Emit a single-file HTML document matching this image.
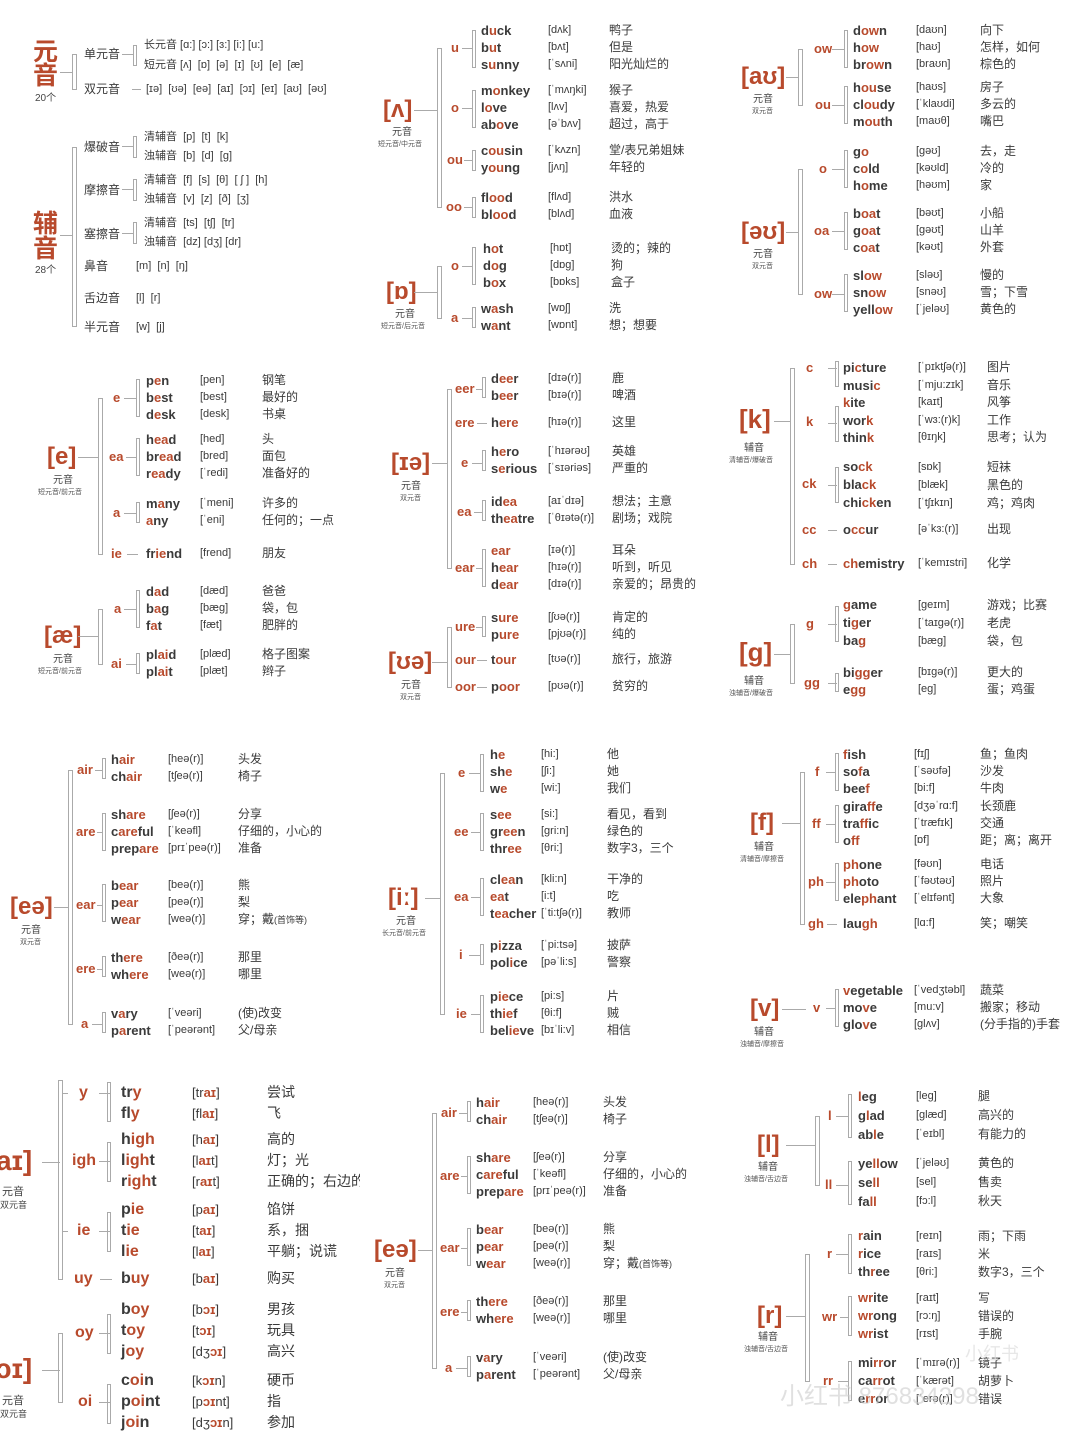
<!DOCTYPE html>
<html><head><meta charset="utf-8"><style>
body{margin:0;background:#fff;}
#c{position:relative;width:1080px;height:1440px;overflow:hidden;font-family:"Liberation Sans","Noto Sans CJK SC",sans-serif;color:#3a3a3a;}
#c div{position:absolute;}
.L{color:#b84a2c;font-weight:bold;font-size:24px;line-height:28px;white-space:nowrap}
.y{font-size:10px;line-height:12px;white-space:nowrap;color:#444}
.z{font-size:7px;line-height:9px;white-space:nowrap;color:#555}
.l{color:#b84a2c;font-weight:bold;font-size:13px;line-height:16px;white-space:nowrap}
.h{height:1px;background:#aaa}
.v{border:1px solid #aaa;width:5px;box-sizing:border-box}
.s{border:1px solid #aaa;width:4px;box-sizing:border-box}
.g p{margin:0;height:var(--h,17px);line-height:var(--h,17px);white-space:nowrap}
.g i{font-style:normal;display:inline-block;vertical-align:top}
.g i:nth-child(1){width:var(--a);font-weight:bold;font-size:var(--fw,13px)}
.g i:nth-child(2){width:calc(var(--b) - var(--a));font-size:var(--fi,11px)}
.g i:nth-child(3){font-size:var(--fc,12px)}
.g b{color:#b84a2c}
.t{font-size:12px;line-height:16px;white-space:nowrap}
.t2{font-size:11px;line-height:14px;white-space:nowrap}
.p2{--a:67px;--b:128px}.p3{--a:63px;--b:127px}.p4{--a:54px;--b:116px}.p5{--a:57px;--b:121px}
.p6{--a:75px;--b:144px}.p7{--a:57px;--b:127px}.p8{--a:51px;--b:117px}.p9{--a:71px;--b:137px}
.p10{--a:71px;--b:146px;--h:21px;--fw:16px;--fi:13px;--fc:14px}.p12{--a:58px;--b:120px;--h:19px}.p12b{--a:58px;--b:120px;--h:18px}
</style></head><body><div id="c">

<!-- Panel 1 -->
<div class="L" style="left:33px;top:40px;font-size:25px;line-height:24px">元<br>音</div>
<div class="y" style="left:35px;top:93px">20个</div>
<div class="h" style="left:60px;top:72px;width:12px"></div>
<div class="v" style="left:72px;top:54px;height:36px"></div>
<div class="t" style="left:84px;top:46px">单元音</div>
<div class="h" style="left:122px;top:54px;width:11px"></div>
<div class="s" style="left:133px;top:45px;height:21px"></div>
<div class="t2" style="left:144px;top:38px">长元音 [ɑ:] [ɔ:] [ɜ:] [i:] [u:]</div>
<div class="t2" style="left:144px;top:58px">短元音 [ʌ] &nbsp;[ɒ] &nbsp;[ə] &nbsp;[ɪ] &nbsp;[ʊ] &nbsp;[e] &nbsp;[æ]</div>
<div class="t" style="left:84px;top:81px">双元音</div>
<div class="h" style="left:132px;top:89px;width:9px"></div>
<div class="t2" style="left:146px;top:82px">[ɪə] &nbsp;[ʊə] &nbsp;[eə] &nbsp;[aɪ] &nbsp;[ɔɪ] &nbsp;[eɪ] &nbsp;[aʊ] &nbsp;[əʊ]</div>

<div class="L" style="left:33px;top:212px;font-size:25px;line-height:25px">辅<br>音</div>
<div class="y" style="left:35px;top:265px">28个</div>
<div class="h" style="left:60px;top:235px;width:12px"></div>
<div class="v" style="left:72px;top:147px;height:180px"></div>
<div class="t" style="left:84px;top:139px">爆破音</div>
<div class="h" style="left:122px;top:146px;width:11px"></div>
<div class="s" style="left:133px;top:136px;height:22px"></div>
<div class="t2" style="left:144px;top:130px">清辅音 &nbsp;[p] &nbsp;[t] &nbsp;[k]</div>
<div class="t2" style="left:144px;top:149px">浊辅音 &nbsp;[b] &nbsp;[d] &nbsp;[g]</div>
<div class="t" style="left:84px;top:182px">摩擦音</div>
<div class="h" style="left:122px;top:189px;width:11px"></div>
<div class="s" style="left:133px;top:179px;height:22px"></div>
<div class="t2" style="left:144px;top:173px">清辅音 &nbsp;[f] &nbsp;[s] &nbsp;[θ] &nbsp;[ ʃ ] &nbsp;[h]</div>
<div class="t2" style="left:144px;top:192px">浊辅音 &nbsp;[v] &nbsp;[z] &nbsp;[ð] &nbsp;[ʒ]</div>
<div class="t" style="left:84px;top:226px">塞擦音</div>
<div class="h" style="left:122px;top:233px;width:11px"></div>
<div class="s" style="left:133px;top:222px;height:22px"></div>
<div class="t2" style="left:144px;top:216px">清辅音 &nbsp;[ts] &nbsp;[tʃ] &nbsp;[tr]</div>
<div class="t2" style="left:144px;top:235px">浊辅音 &nbsp;[dz] [dʒ] [dr]</div>
<div class="t" style="left:84px;top:258px">鼻音</div>
<div class="t2" style="left:136px;top:259px">[m] &nbsp;[n] &nbsp;[ŋ]</div>
<div class="t" style="left:84px;top:290px">舌边音</div>
<div class="t2" style="left:136px;top:291px">[l] &nbsp;[r]</div>
<div class="t" style="left:84px;top:319px">半元音</div>
<div class="t2" style="left:136px;top:320px">[w] &nbsp;[j]</div>

<!-- Panel 2 -->
<div class="L" style="left:383px;top:96px">[ʌ]</div>
<div class="y" style="left:392px;top:127px">元音</div>
<div class="z" style="left:378px;top:140px">短元音/中元音</div>
<div class="h" style="left:414px;top:110px;width:23px"></div>
<div class="v" style="left:437px;top:48px;height:160px"></div>
<div class="l" style="left:451px;top:40px">u</div><div class="h" style="left:462px;top:48px;width:10px"></div><div class="s" style="left:472px;top:30px;height:38px"></div>
<div class="l" style="left:451px;top:100px">o</div><div class="h" style="left:462px;top:108px;width:10px"></div><div class="s" style="left:472px;top:90px;height:38px"></div>
<div class="l" style="left:447px;top:152px">ou</div><div class="h" style="left:464px;top:160px;width:8px"></div><div class="s" style="left:472px;top:150px;height:21px"></div>
<div class="l" style="left:446px;top:199px">oo</div><div class="h" style="left:464px;top:207px;width:8px"></div><div class="s" style="left:472px;top:197px;height:21px"></div>
<div class="g p2" style="left:481px;top:22px">
<p><i>d<b>u</b>ck</i><i>[dʌk]</i><i>鸭子</i></p>
<p><i>b<b>u</b>t</i><i>[bʌt]</i><i>但是</i></p>
<p><i>s<b>u</b>nny</i><i>[ˈsʌni]</i><i>阳光灿烂的</i></p></div>
<div class="g p2" style="left:481px;top:82px">
<p><i>m<b>o</b>nkey</i><i>[ˈmʌŋki]</i><i>猴子</i></p>
<p><i>l<b>o</b>ve</i><i>[lʌv]</i><i>喜爱，热爱</i></p>
<p><i>ab<b>o</b>ve</i><i>[əˈbʌv]</i><i>超过，高于</i></p></div>
<div class="g p2" style="left:481px;top:142px">
<p><i>c<b>ou</b>sin</i><i>[ˈkʌzn]</i><i>堂/表兄弟姐妹</i></p>
<p><i>y<b>ou</b>ng</i><i>[jʌŋ]</i><i>年轻的</i></p></div>
<div class="g p2" style="left:481px;top:189px">
<p><i>fl<b>oo</b>d</i><i>[flʌd]</i><i>洪水</i></p>
<p><i>bl<b>oo</b>d</i><i>[blʌd]</i><i>血液</i></p></div>

<div class="L" style="left:386px;top:278px">[ɒ]</div>
<div class="y" style="left:395px;top:309px">元音</div>
<div class="z" style="left:381px;top:322px">短元音/后元音</div>
<div class="h" style="left:414px;top:292px;width:23px"></div>
<div class="v" style="left:437px;top:266px;height:53px"></div>
<div class="l" style="left:451px;top:258px">o</div><div class="h" style="left:462px;top:266px;width:10px"></div><div class="s" style="left:472px;top:247px;height:38px"></div>
<div class="l" style="left:451px;top:310px">a</div><div class="h" style="left:462px;top:318px;width:10px"></div><div class="s" style="left:472px;top:307px;height:21px"></div>
<div class="g p2" style="left:483px;top:240px">
<p><i>h<b>o</b>t</i><i>[hɒt]</i><i>烫的；辣的</i></p>
<p><i>d<b>o</b>g</i><i>[dɒg]</i><i>狗</i></p>
<p><i>b<b>o</b>x</i><i>[bɒks]</i><i>盒子</i></p></div>
<div class="g p2" style="left:481px;top:300px">
<p><i>w<b>a</b>sh</i><i>[wɒʃ]</i><i>洗</i></p>
<p><i>w<b>a</b>nt</i><i>[wɒnt]</i><i>想；想要</i></p></div>

<!-- Panel 3 -->
<div class="L" style="left:741px;top:63px">[aʊ]</div>
<div class="y" style="left:753px;top:94px">元音</div>
<div class="z" style="left:752px;top:107px">双元音</div>
<div class="h" style="left:786px;top:77px;width:12px"></div>
<div class="v" style="left:798px;top:49px;height:57px"></div>
<div class="l" style="left:814px;top:41px">ow</div><div class="h" style="left:832px;top:49px;width:12px"></div><div class="s" style="left:844px;top:30px;height:38px"></div>
<div class="l" style="left:815px;top:97px">ou</div><div class="h" style="left:832px;top:105px;width:12px"></div><div class="s" style="left:844px;top:86px;height:38px"></div>
<div class="g p3" style="left:853px;top:22px">
<p><i>d<b>ow</b>n</i><i>[daʊn]</i><i>向下</i></p>
<p><i>h<b>ow</b></i><i>[haʊ]</i><i>怎样，如何</i></p>
<p><i>br<b>ow</b>n</i><i>[braʊn]</i><i>棕色的</i></p></div>
<div class="g p3" style="left:853px;top:79px">
<p><i>h<b>ou</b>se</i><i>[haʊs]</i><i>房子</i></p>
<p><i>cl<b>ou</b>dy</i><i>[ˈklaʊdi]</i><i>多云的</i></p>
<p><i>m<b>ou</b>th</i><i>[maʊθ]</i><i>嘴巴</i></p></div>

<div class="L" style="left:741px;top:218px">[əʊ]</div>
<div class="y" style="left:753px;top:249px">元音</div>
<div class="z" style="left:752px;top:262px">双元音</div>
<div class="h" style="left:786px;top:232px;width:12px"></div>
<div class="v" style="left:798px;top:169px;height:126px"></div>
<div class="l" style="left:819px;top:161px">o</div><div class="h" style="left:832px;top:169px;width:12px"></div><div class="s" style="left:844px;top:150px;height:38px"></div>
<div class="l" style="left:814px;top:223px">oa</div><div class="h" style="left:832px;top:231px;width:12px"></div><div class="s" style="left:844px;top:212px;height:38px"></div>
<div class="l" style="left:814px;top:286px">ow</div><div class="h" style="left:832px;top:294px;width:12px"></div><div class="s" style="left:844px;top:274px;height:38px"></div>
<div class="g p3" style="left:853px;top:143px">
<p><i>g<b>o</b></i><i>[gəʊ]</i><i>去，走</i></p>
<p><i>c<b>o</b>ld</i><i>[kəʊld]</i><i>冷的</i></p>
<p><i>h<b>o</b>me</i><i>[həʊm]</i><i>家</i></p></div>
<div class="g p3" style="left:853px;top:205px">
<p><i>b<b>oa</b>t</i><i>[bəʊt]</i><i>小船</i></p>
<p><i>g<b>oa</b>t</i><i>[gəʊt]</i><i>山羊</i></p>
<p><i>c<b>oa</b>t</i><i>[kəʊt]</i><i>外套</i></p></div>
<div class="g p3" style="left:853px;top:267px">
<p><i>sl<b>ow</b></i><i>[sləʊ]</i><i>慢的</i></p>
<p><i>sn<b>ow</b></i><i>[snəʊ]</i><i>雪；下雪</i></p>
<p><i>yell<b>ow</b></i><i>[ˈjeləʊ]</i><i>黄色的</i></p></div>

<!-- Panel 4 -->
<div class="L" style="left:47px;top:443px">[e]</div>
<div class="y" style="left:53px;top:475px">元音</div>
<div class="z" style="left:38px;top:488px">短元音/前元音</div>
<div class="h" style="left:78px;top:457px;width:20px"></div>
<div class="v" style="left:98px;top:398px;height:157px"></div>
<div class="l" style="left:113px;top:390px">e</div><div class="h" style="left:124px;top:398px;width:12px"></div><div class="s" style="left:136px;top:379px;height:38px"></div>
<div class="l" style="left:109px;top:449px">ea</div><div class="h" style="left:126px;top:457px;width:10px"></div><div class="s" style="left:136px;top:438px;height:38px"></div>
<div class="l" style="left:113px;top:505px">a</div><div class="h" style="left:124px;top:513px;width:12px"></div><div class="s" style="left:136px;top:502px;height:21px"></div>
<div class="l" style="left:111px;top:546px">ie</div><div class="h" style="left:127px;top:554px;width:11px"></div>
<div class="g p4" style="left:146px;top:372px">
<p><i>p<b>e</b>n</i><i>[pen]</i><i>钢笔</i></p>
<p><i>b<b>e</b>st</i><i>[best]</i><i>最好的</i></p>
<p><i>d<b>e</b>sk</i><i>[desk]</i><i>书桌</i></p></div>
<div class="g p4" style="left:146px;top:431px">
<p><i>h<b>ea</b>d</i><i>[hed]</i><i>头</i></p>
<p><i>br<b>ea</b>d</i><i>[bred]</i><i>面包</i></p>
<p><i>r<b>ea</b>dy</i><i>[ˈredi]</i><i>准备好的</i></p></div>
<div class="g p4" style="left:146px;top:495px">
<p><i>m<b>a</b>ny</i><i>[ˈmeni]</i><i>许多的</i></p>
<p><i><b>a</b>ny</i><i>[ˈeni]</i><i>任何的；一点</i></p></div>
<div class="g p4" style="left:146px;top:545px">
<p><i>fr<b>ie</b>nd</i><i>[frend]</i><i>朋友</i></p></div>

<div class="L" style="left:44px;top:622px">[æ]</div>
<div class="y" style="left:53px;top:654px">元音</div>
<div class="z" style="left:38px;top:667px">短元音/前元音</div>
<div class="h" style="left:78px;top:636px;width:20px"></div>
<div class="v" style="left:98px;top:609px;height:56px"></div>
<div class="l" style="left:114px;top:601px">a</div><div class="h" style="left:124px;top:609px;width:12px"></div><div class="s" style="left:136px;top:590px;height:38px"></div>
<div class="l" style="left:111px;top:656px">ai</div><div class="h" style="left:126px;top:664px;width:10px"></div><div class="s" style="left:136px;top:653px;height:21px"></div>
<div class="g p4" style="left:146px;top:583px">
<p><i>d<b>a</b>d</i><i>[dæd]</i><i>爸爸</i></p>
<p><i>b<b>a</b>g</i><i>[bæg]</i><i>袋，包</i></p>
<p><i>f<b>a</b>t</i><i>[fæt]</i><i>肥胖的</i></p></div>
<div class="g p4" style="left:146px;top:646px">
<p><i>pl<b>ai</b>d</i><i>[plæd]</i><i>格子图案</i></p>
<p><i>pl<b>ai</b>t</i><i>[plæt]</i><i>辫子</i></p></div>

<!-- Panel 5 -->
<div class="L" style="left:391px;top:449px">[ɪə]</div>
<div class="y" style="left:401px;top:481px">元音</div>
<div class="z" style="left:400px;top:494px">双元音</div>
<div class="h" style="left:432px;top:463px;width:15px"></div>
<div class="v" style="left:447px;top:389px;height:180px"></div>
<div class="l" style="left:455px;top:381px">eer</div><div class="h" style="left:476px;top:389px;width:6px"></div><div class="s" style="left:482px;top:377px;height:21px"></div>
<div class="l" style="left:455px;top:415px">ere</div><div class="h" style="left:477px;top:423px;width:10px"></div>
<div class="l" style="left:461px;top:455px">e</div><div class="h" style="left:472px;top:463px;width:10px"></div><div class="s" style="left:482px;top:450px;height:21px"></div>
<div class="l" style="left:457px;top:504px">ea</div><div class="h" style="left:474px;top:512px;width:8px"></div><div class="s" style="left:482px;top:500px;height:21px"></div>
<div class="l" style="left:455px;top:560px">ear</div><div class="h" style="left:476px;top:568px;width:6px"></div><div class="s" style="left:482px;top:549px;height:38px"></div>
<div class="g p5" style="left:491px;top:370px">
<p><i>d<b>ee</b>r</i><i>[dɪə(r)]</i><i>鹿</i></p>
<p><i>b<b>ee</b>r</i><i>[bɪə(r)]</i><i>啤酒</i></p></div>
<div class="g p5" style="left:491px;top:414px">
<p><i>h<b>ere</b></i><i>[hɪə(r)]</i><i>这里</i></p></div>
<div class="g p5" style="left:491px;top:443px">
<p><i>h<b>e</b>ro</i><i>[ˈhɪərəʊ]</i><i>英雄</i></p>
<p><i>s<b>e</b>rious</i><i>[ˈsɪəriəs]</i><i>严重的</i></p></div>
<div class="g p5" style="left:491px;top:493px">
<p><i>id<b>ea</b></i><i>[aɪˈdɪə]</i><i>想法；主意</i></p>
<p><i>th<b>ea</b>tre</i><i>[ˈθɪətə(r)]</i><i>剧场；戏院</i></p></div>
<div class="g p5" style="left:491px;top:542px">
<p><i><b>ear</b></i><i>[ɪə(r)]</i><i>耳朵</i></p>
<p><i>h<b>ear</b></i><i>[hɪə(r)]</i><i>听到，听见</i></p>
<p><i>d<b>ear</b></i><i>[dɪə(r)]</i><i>亲爱的；昂贵的</i></p></div>

<div class="L" style="left:388px;top:648px">[ʊə]</div>
<div class="y" style="left:401px;top:680px">元音</div>
<div class="z" style="left:400px;top:693px">双元音</div>
<div class="h" style="left:432px;top:662px;width:15px"></div>
<div class="v" style="left:447px;top:627px;height:61px"></div>
<div class="l" style="left:455px;top:619px">ure</div><div class="h" style="left:476px;top:627px;width:6px"></div><div class="s" style="left:482px;top:616px;height:21px"></div>
<div class="l" style="left:455px;top:652px">our</div><div class="h" style="left:477px;top:660px;width:10px"></div>
<div class="l" style="left:455px;top:679px">oor</div><div class="h" style="left:477px;top:687px;width:10px"></div>
<div class="g p5" style="left:491px;top:609px">
<p><i>s<b>ure</b></i><i>[ʃʊə(r)]</i><i>肯定的</i></p>
<p><i>p<b>ure</b></i><i>[pjʊə(r)]</i><i>纯的</i></p></div>
<div class="g p5" style="left:491px;top:651px">
<p><i>t<b>our</b></i><i>[tʊə(r)]</i><i>旅行，旅游</i></p></div>
<div class="g p5" style="left:491px;top:678px">
<p><i>p<b>oor</b></i><i>[pʊə(r)]</i><i>贫穷的</i></p></div>

<!-- Panel 6 -->
<div class="L" style="left:739px;top:405px;font-size:26px">[k]</div>
<div class="y" style="left:744px;top:443px">辅音</div>
<div class="z" style="left:729px;top:456px">清辅音/爆破音</div>
<div class="h" style="left:774px;top:421px;width:16px"></div>
<div class="v" style="left:790px;top:368px;height:197px"></div>
<div class="l" style="left:806px;top:360px">c</div><div class="h" style="left:828px;top:368px;width:9px"></div><div class="s" style="left:835px;top:361px;height:26px"></div>
<div class="l" style="left:806px;top:414px">k</div><div class="h" style="left:828px;top:423px;width:9px"></div><div class="s" style="left:835px;top:406px;height:36px"></div>
<div class="l" style="left:802px;top:476px">ck</div><div class="h" style="left:828px;top:485px;width:9px"></div><div class="s" style="left:835px;top:467px;height:36px"></div>
<div class="l" style="left:802px;top:522px">cc</div><div class="h" style="left:828px;top:530px;width:9px"></div>
<div class="l" style="left:802px;top:556px">ch</div><div class="h" style="left:828px;top:564px;width:9px"></div>
<div class="g p6" style="left:843px;top:359px;--h:17.5px">
<p><i>pi<b>c</b>ture</i><i>[ˈpɪktʃə(r)]</i><i>图片</i></p>
<p><i>musi<b>c</b></i><i>[ˈmju:zɪk]</i><i>音乐</i></p>
<p><i><b>k</b>ite</i><i>[kaɪt]</i><i>风筝</i></p>
<p><i>wor<b>k</b></i><i>[ˈwɜ:(r)k]</i><i>工作</i></p>
<p><i>thin<b>k</b></i><i>[θɪŋk]</i><i>思考；认为</i></p></div>
<div class="g p6" style="left:843px;top:458px;--h:18px">
<p><i>so<b>ck</b></i><i>[sɒk]</i><i>短袜</i></p>
<p><i>bla<b>ck</b></i><i>[blæk]</i><i>黑色的</i></p>
<p><i>chi<b>ck</b>en</i><i>[ˈtʃɪkɪn]</i><i>鸡；鸡肉</i></p></div>
<div class="g p6" style="left:843px;top:521px">
<p><i>o<b>cc</b>ur</i><i>[əˈkɜ:(r)]</i><i>出现</i></p></div>
<div class="g p6" style="left:843px;top:555px">
<p><i><b>ch</b>emistry</i><i>[ˈkemɪstri]</i><i>化学</i></p></div>

<div class="L" style="left:739px;top:638px;font-size:26px">[g]</div>
<div class="y" style="left:744px;top:676px">辅音</div>
<div class="z" style="left:729px;top:689px">浊辅音/爆破音</div>
<div class="h" style="left:774px;top:654px;width:16px"></div>
<div class="v" style="left:790px;top:624px;height:60px"></div>
<div class="l" style="left:806px;top:616px">g</div><div class="h" style="left:828px;top:624px;width:9px"></div><div class="s" style="left:835px;top:606px;height:36px"></div>
<div class="l" style="left:804px;top:675px">gg</div><div class="h" style="left:828px;top:683px;width:9px"></div><div class="s" style="left:835px;top:673px;height:19px"></div>
<div class="g p6" style="left:843px;top:596px;--h:18px">
<p><i><b>g</b>ame</i><i>[geɪm]</i><i>游戏；比赛</i></p>
<p><i>ti<b>g</b>er</i><i>[ˈtaɪgə(r)]</i><i>老虎</i></p>
<p><i>ba<b>g</b></i><i>[bæg]</i><i>袋，包</i></p></div>
<div class="g p6" style="left:843px;top:664px">
<p><i>bi<b>gg</b>er</i><i>[bɪgə(r)]</i><i>更大的</i></p>
<p><i>e<b>gg</b></i><i>[eg]</i><i>蛋；鸡蛋</i></p></div>

<!-- Panel 7 -->
<div class="L" style="left:10px;top:893px">[eə]</div>
<div class="y" style="left:21px;top:925px">元音</div>
<div class="z" style="left:20px;top:938px">双元音</div>
<div class="h" style="left:54px;top:907px;width:14px"></div>
<div class="v" style="left:68px;top:770px;height:255px"></div>
<div class="l" style="left:77px;top:762px">air</div><div class="h" style="left:95px;top:770px;width:7px"></div><div class="s" style="left:102px;top:758px;height:21px"></div>
<div class="l" style="left:76px;top:824px">are</div><div class="h" style="left:97px;top:832px;width:5px"></div><div class="s" style="left:102px;top:813px;height:38px"></div>
<div class="l" style="left:76px;top:897px">ear</div><div class="h" style="left:97px;top:905px;width:5px"></div><div class="s" style="left:102px;top:884px;height:38px"></div>
<div class="l" style="left:76px;top:961px">ere</div><div class="h" style="left:97px;top:969px;width:5px"></div><div class="s" style="left:102px;top:956px;height:21px"></div>
<div class="l" style="left:81px;top:1016px">a</div><div class="h" style="left:92px;top:1024px;width:10px"></div><div class="s" style="left:102px;top:1012px;height:21px"></div>
<div class="g p7" style="left:111px;top:751px">
<p><i>h<b>air</b></i><i>[heə(r)]</i><i>头发</i></p>
<p><i>ch<b>air</b></i><i>[tʃeə(r)]</i><i>椅子</i></p></div>
<div class="g p7" style="left:111px;top:806px">
<p><i>sh<b>are</b></i><i>[ʃeə(r)]</i><i>分享</i></p>
<p><i>c<b>are</b>ful</i><i>[ˈkeəfl]</i><i>仔细的，小心的</i></p>
<p><i>prep<b>are</b></i><i>[prɪˈpeə(r)]</i><i>准备</i></p></div>
<div class="g p7" style="left:111px;top:877px">
<p><i>b<b>ear</b></i><i>[beə(r)]</i><i>熊</i></p>
<p><i>p<b>ear</b></i><i>[peə(r)]</i><i>梨</i></p>
<p><i>w<b>ear</b></i><i>[weə(r)]</i><i>穿；戴<span style="font-size:9px">(首饰等)</span></i></p></div>
<div class="g p7" style="left:111px;top:949px">
<p><i>th<b>ere</b></i><i>[ðeə(r)]</i><i>那里</i></p>
<p><i>wh<b>ere</b></i><i>[weə(r)]</i><i>哪里</i></p></div>
<div class="g p7" style="left:111px;top:1005px">
<p><i>v<b>a</b>ry</i><i>[ˈveəri]</i><i>(使)改变</i></p>
<p><i>p<b>a</b>rent</i><i>[ˈpeərənt]</i><i>父/母亲</i></p></div>

<!-- Panel 8 -->
<div class="L" style="left:388px;top:884px">[iː]</div>
<div class="y" style="left:396px;top:916px">元音</div>
<div class="z" style="left:382px;top:929px">长元音/前元音</div>
<div class="h" style="left:425px;top:898px;width:15px"></div>
<div class="v" style="left:440px;top:773px;height:242px"></div>
<div class="l" style="left:458px;top:765px">e</div><div class="h" style="left:469px;top:773px;width:11px"></div><div class="s" style="left:480px;top:754px;height:38px"></div>
<div class="l" style="left:454px;top:824px">ee</div><div class="h" style="left:471px;top:832px;width:9px"></div><div class="s" style="left:480px;top:813px;height:38px"></div>
<div class="l" style="left:454px;top:889px">ea</div><div class="h" style="left:471px;top:897px;width:9px"></div><div class="s" style="left:480px;top:878px;height:38px"></div>
<div class="l" style="left:459px;top:947px">i</div><div class="h" style="left:469px;top:955px;width:11px"></div><div class="s" style="left:480px;top:944px;height:21px"></div>
<div class="l" style="left:456px;top:1006px">ie</div><div class="h" style="left:471px;top:1014px;width:9px"></div><div class="s" style="left:480px;top:995px;height:38px"></div>
<div class="g p8" style="left:490px;top:746px">
<p><i>h<b>e</b></i><i>[hi:]</i><i>他</i></p>
<p><i>sh<b>e</b></i><i>[ʃi:]</i><i>她</i></p>
<p><i>w<b>e</b></i><i>[wi:]</i><i>我们</i></p></div>
<div class="g p8" style="left:490px;top:806px">
<p><i>s<b>ee</b></i><i>[si:]</i><i>看见，看到</i></p>
<p><i>gr<b>ee</b>n</i><i>[gri:n]</i><i>绿色的</i></p>
<p><i>thr<b>ee</b></i><i>[θri:]</i><i>数字3，三个</i></p></div>
<div class="g p8" style="left:490px;top:871px">
<p><i>cl<b>ea</b>n</i><i>[kli:n]</i><i>干净的</i></p>
<p><i><b>ea</b>t</i><i>[i:t]</i><i>吃</i></p>
<p><i>t<b>ea</b>cher</i><i>[ˈti:tʃə(r)]</i><i>教师</i></p></div>
<div class="g p8" style="left:490px;top:937px">
<p><i>p<b>i</b>zza</i><i>[ˈpi:tsə]</i><i>披萨</i></p>
<p><i>pol<b>i</b>ce</i><i>[pəˈli:s]</i><i>警察</i></p></div>
<div class="g p8" style="left:490px;top:988px">
<p><i>p<b>ie</b>ce</i><i>[pi:s]</i><i>片</i></p>
<p><i>th<b>ie</b>f</i><i>[θi:f]</i><i>贼</i></p>
<p><i>bel<b>ie</b>ve</i><i>[bɪˈli:v]</i><i>相信</i></p></div>

<!-- Panel 9 -->
<div class="L" style="left:750px;top:809px">[f]</div>
<div class="y" style="left:754px;top:842px">辅音</div>
<div class="z" style="left:740px;top:855px">清辅音/摩擦音</div>
<div class="h" style="left:782px;top:823px;width:18px"></div>
<div class="v" style="left:800px;top:772px;height:153px"></div>
<div class="l" style="left:815px;top:764px">f</div><div class="h" style="left:826px;top:772px;width:9px"></div><div class="s" style="left:835px;top:753px;height:38px"></div>
<div class="l" style="left:812px;top:816px">ff</div><div class="h" style="left:826px;top:824px;width:9px"></div><div class="s" style="left:835px;top:805px;height:38px"></div>
<div class="l" style="left:808px;top:874px">ph</div><div class="h" style="left:826px;top:882px;width:9px"></div><div class="s" style="left:835px;top:863px;height:38px"></div>
<div class="l" style="left:808px;top:916px">gh</div><div class="h" style="left:827px;top:924px;width:10px"></div>
<div class="g p9" style="left:843px;top:746px">
<p><i><b>f</b>ish</i><i>[fɪʃ]</i><i>鱼；鱼肉</i></p>
<p><i>so<b>f</b>a</i><i>[ˈsəʊfə]</i><i>沙发</i></p>
<p><i>bee<b>f</b></i><i>[bi:f]</i><i>牛肉</i></p></div>
<div class="g p9" style="left:843px;top:798px">
<p><i>gira<b>ff</b>e</i><i>[dʒəˈrɑ:f]</i><i>长颈鹿</i></p>
<p><i>tra<b>ff</b>ic</i><i>[ˈtræfɪk]</i><i>交通</i></p>
<p><i>o<b>ff</b></i><i>[ɒf]</i><i>距；离；离开</i></p></div>
<div class="g p9" style="left:843px;top:856px">
<p><i><b>ph</b>one</i><i>[fəʊn]</i><i>电话</i></p>
<p><i><b>ph</b>oto</i><i>[ˈfəʊtəʊ]</i><i>照片</i></p>
<p><i>ele<b>ph</b>ant</i><i>[ˈelɪfənt]</i><i>大象</i></p></div>
<div class="g p9" style="left:843px;top:915px">
<p><i>lau<b>gh</b></i><i>[lɑ:f]</i><i>笑；嘲笑</i></p></div>

<div class="L" style="left:750px;top:995px">[v]</div>
<div class="y" style="left:754px;top:1027px">辅音</div>
<div class="z" style="left:740px;top:1040px">浊辅音/摩擦音</div>
<div class="h" style="left:782px;top:1009px;width:24px"></div>
<div class="l" style="left:813px;top:1000px">v</div><div class="h" style="left:826px;top:1008px;width:9px"></div><div class="s" style="left:835px;top:989px;height:38px"></div>
<div class="g p9" style="left:843px;top:982px">
<p><i><b>v</b>egetable</i><i>[ˈvedʒtəbl]</i><i>蔬菜</i></p>
<p><i>mo<b>v</b>e</i><i>[mu:v]</i><i>搬家；移动</i></p>
<p><i>glo<b>v</b>e</i><i>[glʌv]</i><i>(分手指的)手套</i></p></div>

<!-- Panel 10 -->
<div class="L" style="left:-4px;top:1144px;font-size:28px;line-height:34px">aɪ]</div>
<div class="y" style="left:2px;top:1186px;font-size:11px">元音</div>
<div class="y" style="left:0px;top:1199px;font-size:9px">双元音</div>
<div class="h" style="left:42px;top:1162px;width:18px"></div>
<div class="v" style="left:58px;top:1080px;height:200px"></div>
<div class="h" style="left:62px;top:1093px;width:6px"></div>
<div class="h" style="left:62px;top:1231px;width:6px"></div>
<div class="L" style="left:-4px;top:1352px;font-size:28px;line-height:34px">ɔɪ]</div>
<div class="y" style="left:2px;top:1395px;font-size:11px">元音</div>
<div class="y" style="left:0px;top:1408px;font-size:9px">双元音</div>
<div class="h" style="left:42px;top:1370px;width:18px"></div>
<div class="v" style="left:58px;top:1333px;height:70px"></div>
<div class="l" style="left:79px;top:1084px;font-size:16px;line-height:18px">y</div><div class="h" style="left:99px;top:1093px;width:12px"></div><div class="s" style="left:107px;top:1082px;height:40px"></div>
<div class="l" style="left:72px;top:1152px;font-size:16px;line-height:18px">igh</div><div class="h" style="left:99px;top:1161px;width:12px"></div><div class="s" style="left:107px;top:1142px;height:40px"></div>
<div class="l" style="left:77px;top:1222px;font-size:16px;line-height:18px">ie</div><div class="h" style="left:99px;top:1231px;width:12px"></div><div class="s" style="left:107px;top:1212px;height:40px"></div>
<div class="l" style="left:74px;top:1270px;font-size:16px;line-height:18px">uy</div><div class="h" style="left:100px;top:1279px;width:12px"></div>
<div class="l" style="left:75px;top:1324px;font-size:16px;line-height:18px">oy</div><div class="h" style="left:99px;top:1333px;width:12px"></div><div class="s" style="left:107px;top:1314px;height:40px"></div>
<div class="l" style="left:78px;top:1393px;font-size:16px;line-height:18px">oi</div><div class="h" style="left:99px;top:1402px;width:12px"></div><div class="s" style="left:107px;top:1384px;height:40px"></div>
<div class="g p10" style="left:121px;top:1082px">
<p><i>tr<b>y</b></i><i>[tr<b>aɪ</b>]</i><i>尝试</i></p>
<p><i>fl<b>y</b></i><i>[fl<b>aɪ</b>]</i><i>飞</i></p></div>
<div class="g p10" style="left:121px;top:1129px">
<p><i>h<b>igh</b></i><i>[h<b>aɪ</b>]</i><i>高的</i></p>
<p><i>l<b>igh</b>t</i><i>[l<b>aɪ</b>t]</i><i>灯；光</i></p>
<p><i>r<b>igh</b>t</i><i>[r<b>aɪ</b>t]</i><i>正确的；右边的</i></p></div>
<div class="g p10" style="left:121px;top:1199px">
<p><i>p<b>ie</b></i><i>[p<b>aɪ</b>]</i><i>馅饼</i></p>
<p><i>t<b>ie</b></i><i>[t<b>aɪ</b>]</i><i>系，捆</i></p>
<p><i>l<b>ie</b></i><i>[l<b>aɪ</b>]</i><i>平躺；说谎</i></p></div>
<div class="g p10" style="left:121px;top:1268px">
<p><i>b<b>uy</b></i><i>[b<b>aɪ</b>]</i><i>购买</i></p></div>
<div class="g p10" style="left:121px;top:1299px">
<p><i>b<b>oy</b></i><i>[b<b>ɔɪ</b>]</i><i>男孩</i></p>
<p><i>t<b>oy</b></i><i>[t<b>ɔɪ</b>]</i><i>玩具</i></p>
<p><i>j<b>oy</b></i><i>[dʒ<b>ɔɪ</b>]</i><i>高兴</i></p></div>
<div class="g p10" style="left:121px;top:1370px">
<p><i>c<b>oi</b>n</i><i>[k<b>ɔɪ</b>n]</i><i>硬币</i></p>
<p><i>p<b>oi</b>nt</i><i>[p<b>ɔɪ</b>nt]</i><i>指</i></p>
<p><i>j<b>oi</b>n</i><i>[dʒ<b>ɔɪ</b>n]</i><i>参加</i></p></div>
<div style="left:360px;top:1170px;width:12px;height:22px;background:#fff"></div>

<!-- Panel 11 -->
<div class="L" style="left:374px;top:1236px">[eə]</div>
<div class="y" style="left:385px;top:1268px">元音</div>
<div class="z" style="left:384px;top:1281px">双元音</div>
<div class="h" style="left:418px;top:1250px;width:14px"></div>
<div class="v" style="left:432px;top:1113px;height:256px"></div>
<div class="l" style="left:441px;top:1105px">air</div><div class="h" style="left:459px;top:1113px;width:8px"></div><div class="s" style="left:467px;top:1101px;height:21px"></div>
<div class="l" style="left:440px;top:1168px">are</div><div class="h" style="left:461px;top:1176px;width:6px"></div><div class="s" style="left:467px;top:1156px;height:38px"></div>
<div class="l" style="left:440px;top:1240px">ear</div><div class="h" style="left:461px;top:1248px;width:6px"></div><div class="s" style="left:467px;top:1228px;height:38px"></div>
<div class="l" style="left:440px;top:1304px">ere</div><div class="h" style="left:461px;top:1312px;width:6px"></div><div class="s" style="left:467px;top:1300px;height:21px"></div>
<div class="l" style="left:445px;top:1360px">a</div><div class="h" style="left:456px;top:1368px;width:11px"></div><div class="s" style="left:467px;top:1356px;height:21px"></div>
<div class="g p7" style="left:476px;top:1094px">
<p><i>h<b>air</b></i><i>[heə(r)]</i><i>头发</i></p>
<p><i>ch<b>air</b></i><i>[tʃeə(r)]</i><i>椅子</i></p></div>
<div class="g p7" style="left:476px;top:1149px">
<p><i>sh<b>are</b></i><i>[ʃeə(r)]</i><i>分享</i></p>
<p><i>c<b>are</b>ful</i><i>[ˈkeəfl]</i><i>仔细的，小心的</i></p>
<p><i>prep<b>are</b></i><i>[prɪˈpeə(r)]</i><i>准备</i></p></div>
<div class="g p7" style="left:476px;top:1221px">
<p><i>b<b>ear</b></i><i>[beə(r)]</i><i>熊</i></p>
<p><i>p<b>ear</b></i><i>[peə(r)]</i><i>梨</i></p>
<p><i>w<b>ear</b></i><i>[weə(r)]</i><i>穿；戴<span style="font-size:9px">(首饰等)</span></i></p></div>
<div class="g p7" style="left:476px;top:1293px">
<p><i>th<b>ere</b></i><i>[ðeə(r)]</i><i>那里</i></p>
<p><i>wh<b>ere</b></i><i>[weə(r)]</i><i>哪里</i></p></div>
<div class="g p7" style="left:476px;top:1349px">
<p><i>v<b>a</b>ry</i><i>[ˈveəri]</i><i>(使)改变</i></p>
<p><i>p<b>a</b>rent</i><i>[ˈpeərənt]</i><i>父/母亲</i></p></div>

<!-- Panel 12 -->
<div class="L" style="left:757px;top:1131px">[l]</div>
<div class="y" style="left:758px;top:1162px">辅音</div>
<div class="z" style="left:744px;top:1175px">浊辅音/舌边音</div>
<div class="h" style="left:786px;top:1145px;width:29px"></div>
<div class="v" style="left:815px;top:1116px;height:70px"></div>
<div class="l" style="left:828px;top:1108px">l</div><div class="h" style="left:836px;top:1116px;width:12px"></div><div class="s" style="left:848px;top:1094px;height:44px"></div>
<div class="l" style="left:825px;top:1177px">ll</div><div class="h" style="left:836px;top:1185px;width:12px"></div><div class="s" style="left:848px;top:1161px;height:44px"></div>
<div class="g p12" style="left:858px;top:1087px">
<p><i><b>l</b>eg</i><i>[leg]</i><i>腿</i></p>
<p><i>g<b>l</b>ad</i><i>[glæd]</i><i>高兴的</i></p>
<p><i>ab<b>l</b>e</i><i>[ˈeɪbl]</i><i>有能力的</i></p></div>
<div class="g p12" style="left:858px;top:1154px">
<p><i>ye<b>ll</b>ow</i><i>[ˈjeləʊ]</i><i>黄色的</i></p>
<p><i>se<b>ll</b></i><i>[sel]</i><i>售卖</i></p>
<p><i>fa<b>ll</b></i><i>[fɔ:l]</i><i>秋天</i></p></div>

<div class="L" style="left:757px;top:1302px">[r]</div>
<div class="y" style="left:758px;top:1332px">辅音</div>
<div class="z" style="left:744px;top:1345px">浊辅音/舌边音</div>
<div class="h" style="left:786px;top:1316px;width:19px"></div>
<div class="v" style="left:805px;top:1254px;height:128px"></div>
<div class="l" style="left:827px;top:1246px">r</div><div class="h" style="left:836px;top:1254px;width:12px"></div><div class="s" style="left:848px;top:1234px;height:40px"></div>
<div class="l" style="left:822px;top:1309px">wr</div><div class="h" style="left:840px;top:1317px;width:8px"></div><div class="s" style="left:848px;top:1296px;height:40px"></div>
<div class="l" style="left:823px;top:1373px">rr</div><div class="h" style="left:838px;top:1381px;width:10px"></div><div class="s" style="left:848px;top:1361px;height:40px"></div>
<div class="g p12b" style="left:858px;top:1227px">
<p><i><b>r</b>ain</i><i>[reɪn]</i><i>雨；下雨</i></p>
<p><i><b>r</b>ice</i><i>[raɪs]</i><i>米</i></p>
<p><i>th<b>r</b>ee</i><i>[θri:]</i><i>数字3，三个</i></p></div>
<div class="g p12b" style="left:858px;top:1289px">
<p><i><b>wr</b>ite</i><i>[raɪt]</i><i>写</i></p>
<p><i><b>wr</b>ong</i><i>[rɔ:ŋ]</i><i>错误的</i></p>
<p><i><b>wr</b>ist</i><i>[rɪst]</i><i>手腕</i></p></div>
<div class="g p12b" style="left:858px;top:1354px">
<p><i>mi<b>rr</b>or</i><i>[ˈmɪrə(r)]</i><i>镜子</i></p>
<p><i>ca<b>rr</b>ot</i><i>[ˈkærət]</i><i>胡萝卜</i></p>
<p><i>e<b>rr</b>or</i><i>[ˈerə(r)]</i><i>错误</i></p></div>

<div style="left:780px;top:1376px;font-size:24px;color:#ccc;opacity:.6;white-space:nowrap">小红书 876834298</div>
<div style="left:965px;top:1340px;font-size:18px;color:#ddd;opacity:.7;white-space:nowrap">小红书</div>
</div></body></html>
